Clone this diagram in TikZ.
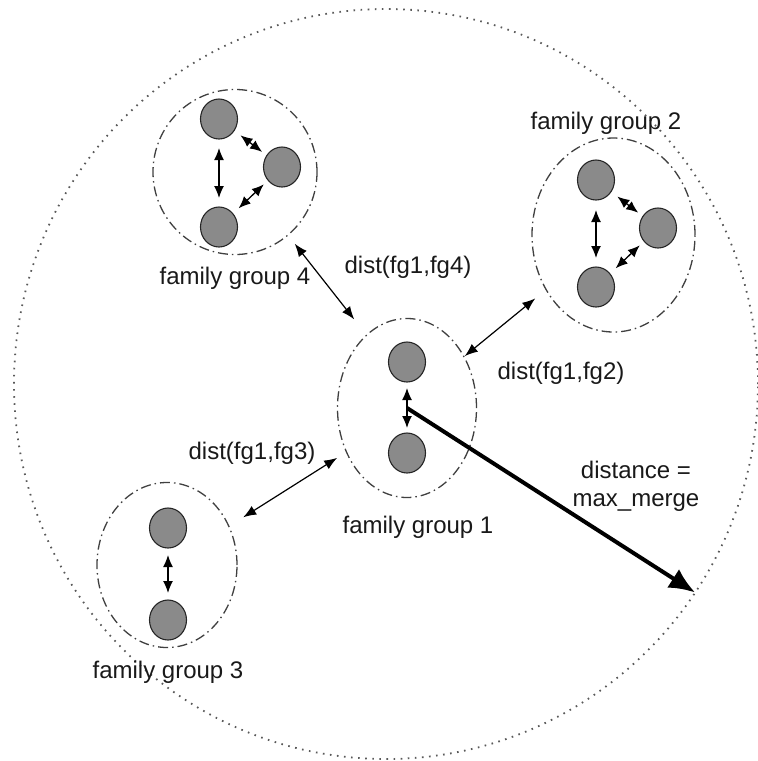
\documentclass[tikz,border=0pt]{standalone}
\usepackage{fontspec}
\setmainfont{Liberation Sans}
\usepackage{tikz}
\usetikzlibrary{shapes.geometric,arrows.meta}
\definecolor{memberfill}{RGB}{138,138,138}

\begin{document}
\begin{tikzpicture}[x=1pt, y=-1pt,
        member/.style={ellipse, draw=black!85, fill=memberfill, line width=1.1pt, minimum width=37pt, minimum height=40pt, inner sep=0pt, outer sep=0pt},
        cluster/.style={ellipse, draw=black!75, line width=1.3pt, dash pattern=on 10pt off 4pt on 1.5pt off 4pt, inner sep=0pt, outer sep=0pt},
        grouptext/.style={text=black!90, font=\fontsize{24}{28}\selectfont, inner sep=0pt},
        pairlink/.style={line width=1.3pt, {Latex[length=12pt,width=10pt]}-{Latex[length=12pt,width=10pt]}},
        distlink/.style={line width=1.2pt, {Latex[length=13pt,width=10pt]}-{Latex[length=13pt,width=10pt]}},
        mergearrow/.style={line width=4pt, -{Latex[length=26pt,width=22pt]}}]
        \useasboundingbox (0, 0) rectangle (758, 761);

        % merge range
        \node[ellipse, draw=black!65, line width=1.8pt, dash pattern=on 1.6pt off 5.5pt, minimum width=744pt, minimum height=750pt, inner sep=0pt, outer sep=0pt] (range) at (386, 384) {};

        % family groups
        \node[cluster, minimum width=164pt, minimum height=165pt] (fg4) at (235, 172) {};
        \node[cluster, minimum width=163pt, minimum height=194pt] (fg2) at (613.5, 235) {};
        \node[cluster, minimum width=139pt, minimum height=179pt] (fg1) at (407, 408) {};
        \node[cluster, minimum width=140pt, minimum height=165pt] (fg3) at (167, 565) {};

        % members
        \node[member] (g4a) at (219, 119) {};
        \node[member] (g4b) at (282, 167) {};
        \node[member] (g4c) at (219, 227) {};
        \node[member] (g2a) at (596, 180) {};
        \node[member] (g2b) at (658, 228) {};
        \node[member] (g2c) at (596, 287) {};
        \node[member] (g1a) at (407, 362) {};
        \node[member] (g1b) at (407, 453) {};
        \node[member] (g3a) at (168, 528) {};
        \node[member] (g3b) at (168, 620) {};

        \draw[pairlink, shorten <=9pt, shorten >=9pt] (g4a) -- (g4c);
        \draw[pairlink, shorten <=8pt, shorten >=6pt] (g4a) -- (g4b);
        \draw[pairlink, shorten <=8pt, shorten >=6pt] (g4c) -- (g4b);
        \draw[pairlink, shorten <=10pt, shorten >=9pt] (g2a) -- (g2c);
        \draw[pairlink, shorten <=8pt, shorten >=6pt] (g2a) -- (g2b);
        \draw[pairlink, shorten <=8pt, shorten >=6pt] (g2c) -- (g2b);
        \draw[pairlink, shorten <=6pt, shorten >=5pt] (g1a) -- (g1b);
        \draw[pairlink, shorten <=7pt, shorten >=7pt] (g3a) -- (g3b);

        % distances between groups
        \draw[distlink, shorten <=11pt, shorten >=20pt] (fg4.-50) -- (fg1.119);
        \draw[distlink, shorten <=14pt, shorten >=1pt] (fg2.219) -- (fg1.42);
        \draw[distlink, shorten <=17pt, shorten >=11pt] (fg3.32) -- (fg1.216);
        \draw[mergearrow] (fg1.center) -- (range.-34.5);

        % labels
        \node[grouptext] (lfg4) at (235, 278) {family group 4};
        \node[grouptext] (lfg2) at (606, 123) {family group 2};
        \node[grouptext] (lfg1) at (418, 527) {family group 1};
        \node[grouptext] (lfg3) at (168, 672) {family group 3};
        \node[grouptext] (d14) at (408, 267) {dist(fg1,fg4)};
        \node[grouptext] (d12) at (561, 373) {dist(fg1,fg2)};
        \node[grouptext] (d13) at (252, 453) {dist(fg1,fg3)};
        \node[grouptext, align=center] (dmax) at (636, 486) {distance =\\max\_merge};
    \end{tikzpicture}
\end{document}
